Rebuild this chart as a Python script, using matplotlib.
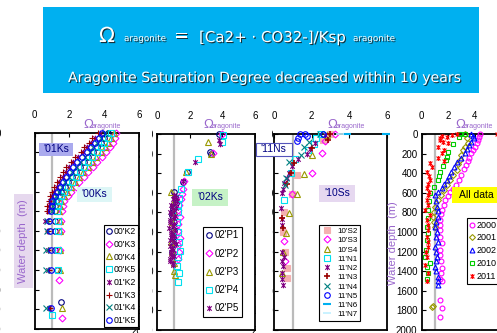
import matplotlib
matplotlib.use('Agg')
import matplotlib.pyplot as plt
import matplotlib.patheffects as pe
from matplotlib.patches import Rectangle
from matplotlib.path import Path

W, H = 497, 333
plt.rcParams['font.family'] = ['Liberation Sans', 'DejaVu Sans']

# ---------------- data ----------------
xticks = [0, 2, 4, 6]
yticks = [0, 200, 400, 600, 800, 1000, 1200, 1400, 1600, 1800, 2000]

# Panel 1 : '00Ks / '01Ks
k_labels = ["00'K2", "00'K3", "00'K4", "00'K5", "01'K2", "01'K3", "01'K4", "01'K5"]
k_up_depth = [0, 50, 100, 150, 200, 250, 300, 350, 400, 450, 500, 550, 600, 650, 700, 750, 800]
k00_2 = [4.2, 4.0, 3.8, 3.59, 3.38, 3.1, 2.83, 2.6, 2.38, 2.17, 1.95, 1.75, 1.55, 1.4, 1.25, 1.2, 1.15]
k00_3 = [4.7, 4.62, 4.48, 4.32, 4.08, 3.86, 3.58, 3.37, 3.08, 2.86, 2.58, 2.37, 2.08, 1.92, 1.68, 1.66, 1.58]
k00_4 = [4.56, 4.39, 4.22, 4.02, 3.81, 3.55, 3.29, 3.05, 2.81, 2.58, 2.34, 2.11, 1.88, 1.7, 1.52, 1.47, 1.42]
k00_5 = [4.38, 4.2, 4.01, 3.8, 3.59, 3.33, 3.05, 2.83, 2.59, 2.37, 2.15, 1.93, 1.72, 1.55, 1.39, 1.34, 1.29]
k01_2 = [3.75, 3.5, 3.22, 3.0, 2.8, 2.5, 2.2, 2.0, 1.8, 1.62, 1.42, 1.28, 1.1, 1.0, 0.88, 0.85, 0.8]
k01_3 = [3.62, 3.3, 3.12, 2.85, 2.68, 2.33, 2.08, 1.83, 1.66, 1.45, 1.32, 1.12, 1.02, 0.88, 0.82, 0.73, 0.72]
k01_4 = [4.02, 3.81, 3.59, 3.38, 3.16, 2.88, 2.59, 2.38, 2.16, 1.96, 1.76, 1.57, 1.39, 1.25, 1.12, 1.07, 1.02]
k01_5 = [3.9, 3.68, 3.45, 3.23, 3.01, 2.73, 2.44, 2.23, 2.01, 1.82, 1.63, 1.45, 1.28, 1.15, 1.03, 0.98, 0.93]
k00_2_deep_d = [900, 1000, 1200, 1400, 1720]
k00_2_deep = [1.15, 1.2, 1.2, 1.3, 1.55]
k00_3_deep_d = [900, 1000, 1200, 1500, 1890]
k00_3_deep = [1.5, 1.5, 1.45, 1.4, 1.6]
k00_4_deep_d = [900, 1000, 1200, 1400, 1790]
k00_4_deep = [1.45, 1.45, 1.45, 1.45, 1.6]
k00_5_deep_d = [900, 1000, 1200, 1400, 1860]
k00_5_deep = [1.35, 1.35, 1.35, 1.35, 1.0]
k01_2_deep_d = [900, 1000, 1200, 1400, 1790]
k01_2_deep = [0.62, 0.7, 0.8, 0.8, 0.85]
k01_3_deep_d = [900, 1000, 1200, 1400, 1790]
k01_3_deep = [0.75, 0.8, 0.75, 0.85, 0.9]
k01_4_deep_d = [900, 1000, 1200, 1400, 1790]
k01_4_deep = [0.7, 0.7, 0.65, 0.65, 0.65]
k01_5_deep_d = [900, 1000, 1200, 1400, 1790]
k01_5_deep = [0.85, 0.9, 0.95, 0.95, 0.95]

# Panel 2 : '02Ks
p_labels = ["02'P1", "02'P2", "02'P3", "02'P4", "02'P5"]
p1_d = [0, 180, 200, 385, 485, 590, 640, 700, 760, 830, 900, 980, 1050, 1120, 1200]
p1_w = [3.8, 3.25, 3.3, 1.85, 1.6, 1.0, 1.1, 1.15, 0.95, 0.88, 1.0, 1.05, 0.95, 1.0, 0.9]
p2_d = [0, 190, 480, 560, 610, 660, 720, 780, 850, 920, 990, 1060, 1130, 1200, 1280]
p2_w = [3.95, 3.45, 1.65, 1.55, 1.5, 1.45, 1.35, 1.3, 1.4, 1.3, 1.25, 1.4, 1.3, 1.35, 1.25]
p3_d = [85, 200, 385, 590, 700, 800, 900, 1000, 1100, 1200, 1320, 1400, 1440]
p3_w = [3.1, 3.3, 1.75, 0.82, 0.95, 1.0, 0.9, 0.95, 0.85, 0.9, 1.0, 1.05, 1.08]
p4_d = [10, 80, 250, 390, 560, 650, 720, 800, 900, 1000, 1100, 1190, 1260, 1350, 1420, 1510]
p4_w = [4.05, 3.95, 2.5, 1.9, 1.45, 1.35, 1.3, 1.25, 1.2, 1.3, 1.35, 1.4, 1.3, 1.2, 1.35, 1.3]
p5_d = [60, 100, 290, 480, 620, 640, 660, 680, 700, 720, 740, 760, 780, 800, 820, 840, 860,
        880, 900, 920, 940, 960, 980, 1000, 1020, 1040, 1060, 1080, 1100, 1120, 1140, 1160,
        1180, 1200, 1220, 1240, 1260, 1280, 1300, 1320, 1340]
p5_w = [3.8, 3.85, 2.3, 1.55, 1.0, 1.15, 0.95, 1.2, 1.1, 0.85, 0.9, 1.15, 1.05, 0.8, 0.85, 1.1,
        1.0, 0.75, 0.8, 1.05, 0.95, 0.7, 1.1, 0.85, 0.85, 1.0, 0.9, 0.75, 1.0, 1.15, 0.8, 0.9,
        0.95, 0.85, 0.85, 1.0, 0.9, 0.8, 0.8, 0.95, 0.95]

# Panel 3 : '10Ss / '11Ns
s_labels = ["10'S2", "10'S3", "10'S4", "11'N1", "11'N2", "11'N3", "11'N4", "11'N5", "11'N6", "11'N7"]
s2_d = [0, 60, 418, 610, 792, 1000, 1200, 1370, 1472]
s2_w = [2.95, 2.6, 1.22, 0.95, 0.53, 0.5, 0.61, 0.7, 0.7]
s3_d = [0, 70, 197, 395, 612, 1090, 1300]
s3_w = [3.25, 2.7, 2.55, 2.0, 0.98, 0.55, 0.6]
s4_d = [10, 214, 405, 612, 810, 1013, 1200, 1420]
s4_w = [2.8, 2.02, 1.58, 1.23, 0.8, 0.62, 0.5, 0.45]
n1_d = [0, 40, 100, 160, 250, 400, 673]
n1_w = [2.5, 2.25, 2.1, 1.8, 1.1, 0.9, 0.53]
n2_d = [10, 90, 150, 200, 260, 330, 400, 450, 500, 560, 600, 750, 870, 930, 1200, 1250,
        1300, 1350, 1420, 1480, 1540]
n2_w = [2.7, 2.2, 1.9, 1.75, 1.3, 0.95, 0.8, 0.7, 0.55, 0.5, 0.45, 0.35, 0.45, 0.4, 0.45, 0.55,
        0.4, 0.5, 0.45, 0.4, 0.5]
n3_d = [0, 60, 140, 300, 400, 510, 860, 960]
n3_w = [3.0, 2.85, 2.0, 1.05, 0.9, 0.7, 0.45, 0.5]
n4_d = [0, 80, 130, 210, 282, 450, 520]
n4_w = [2.45, 1.85, 1.6, 1.45, 0.8, 0.65, 0.6]
n5_d = [0, 5, 20, 45, 75, 0]
n5_w = [1.4, 1.65, 1.75, 1.25, 1.2, 2.6]
n6_d = [0, 0]
n6_w = [3.85, 5.95]
n7_d = [5]
n7_w = [3.5]

# Panel 4 : all data
y_labels = ['2000', '2001', '2002', '2010', '2011']
a00_d = [0, 30, 60, 95, 130, 160, 197, 240, 280, 316, 360, 418, 470, 520, 560, 590, 630, 675,
         720, 775, 820, 875, 930, 980, 1050, 1115, 1180, 1235, 1300, 1370, 1420, 1475, 1500,
         1695, 1780, 1865]
a00_w = [4.4, 4.35, 4.25, 4.15, 4.0, 3.85, 3.75, 3.6, 3.5, 3.35, 3.2, 3.0, 2.8, 2.6, 2.4, 2.15,
         2.0, 1.8, 1.65, 1.5, 1.45, 1.4, 1.35, 1.4, 1.35, 1.5, 1.4, 1.4, 1.45, 1.5, 1.45, 1.4,
         1.55, 1.4, 1.5, 1.4]
a01_d = [0, 40, 95, 130, 163, 210, 265, 310, 367, 420, 470, 520, 570, 620, 675, 740, 800, 845,
         900, 945, 1760, 1770]
a01_w = [3.3, 3.45, 3.5, 3.3, 3.15, 3.0, 2.9, 2.75, 2.65, 2.4, 2.15, 1.9, 1.65, 1.45, 1.26, 1.0,
         0.95, 0.88, 0.9, 1.0, 0.88, 0.76]
a02_d = [0, 20, 44, 80, 112, 150, 197, 240, 290, 340, 385, 430, 470, 510, 555, 590, 620, 680,
         740, 790, 845, 900, 945, 1000, 1050, 1100, 1150, 1200, 1250, 1300, 1355, 1400, 1455,
         1500, 1540]
a02_w = [3.7, 3.9, 3.95, 3.75, 3.55, 3.4, 3.3, 3.0, 2.7, 2.45, 2.25, 2.05, 1.9, 1.7, 1.5, 1.2,
         1.0, 1.1, 1.15, 1.2, 1.25, 1.1, 1.0, 1.15, 1.1, 1.2, 1.0, 1.1, 1.15, 1.05, 1.0, 1.1,
         1.25, 1.2, 1.25]
a10_d = [0, 5, 30, 100, 180, 230, 265, 330, 385, 430, 470, 540, 605, 680, 775, 860, 945, 1010,
         1080, 1180, 1250, 1320, 1355, 1420, 1480]
a10_w = [2.9, 3.3, 2.8, 2.4, 2.0, 1.9, 1.85, 1.6, 1.4, 1.3, 1.26, 0.9, 0.63, 0.55, 0.5, 0.45,
         0.38, 0.45, 0.38, 0.3, 0.25, 0.63, 0.38, 0.5, 0.4]
a11_d = [0, 0, 10, 20, 27, 40, 60, 78, 95, 130, 160, 197, 240, 280, 300, 340, 385, 430, 470,
         510, 555, 590, 620, 675, 720, 775, 825, 875, 930, 980, 1050, 1100, 1150, 1200, 1250,
         1335, 1420, 1505]
a11_w = [2.65, 5.7, 2.27, 1.5, 1.9, 1.35, 1.4, 1.64, 2.0, 1.26, 1.7, 1.5, 1.2, 1.65, 0.63, 0.8,
         0.38, 0.55, 0.63, 0.45, 0.38, 0.55, 0.5, 0.38, 0.45, 0.25, 0.63, 0.38, 0.45, 0.5, 0.38,
         0.45, 0.5, 0.35, 0.38, 0.25, 0.5, 0.38]

# ---------------- style helpers ----------------
NAVY, MAG, OLIVE, CYAN = '#000080', '#FF00FF', '#999900', '#00E0F0'
PURP, DRED, TEAL, BLUE = '#800080', '#990000', '#008080', '#0000FF'
LAV = '#9966CC'
NARROW = ['Liberation Sans Narrow', 'Liberation Sans']
STAR = Path([(-1, -1), (1, 1), (-1, 1), (1, -1), (0, -1.25), (0, 1.25)],
            [Path.MOVETO, Path.LINETO, Path.MOVETO, Path.LINETO, Path.MOVETO, Path.LINETO])

fig = plt.figure(figsize=(W / 100, H / 100), dpi=100)


def fx(x):
    return x / W


def fy(y):
    return 1 - y / H


def add_ax(x0, y0, x1, y1, z):
    ax = fig.add_axes([fx(x0), fy(y1), (x1 - x0) / W, (y1 - y0) / H])
    ax.set_zorder(z)
    return ax


def style_ax(ax, ypad):
    ax.set_xlim(0, 6)
    ax.set_ylim(2000, 0)
    ax.set_xticks(xticks)
    ax.set_yticks(yticks)
    ax.xaxis.tick_top()
    ax.tick_params(axis='both', direction='in', length=3, width=0.8, labelsize=7)
    ax.tick_params(axis='x', pad=9.5)
    ax.tick_params(axis='y', pad=ypad)
    for lab in ax.get_xticklabels() + ax.get_yticklabels():
        lab.set_family(NARROW)
    for sp in ax.spines.values():
        sp.set_linewidth(1.3)
    ax.axvline(1, color='#BBBBBB', lw=1.6, zorder=1)


def pts(ax, w, d, marker, color, label, ms=4, filled=False, mew=0.8):
    ax.plot(w, d, ls='none', marker=marker, ms=ms, mew=mew,
            mec=color, mfc=(color if filled else 'none'),
            label=label, clip_on=False, zorder=3)


def legend(ax, x, y, fs, spacing, hl=0.7, pad=0.3, tp=0.25):
    lg = ax.legend(loc='upper left', bbox_to_anchor=(fx(x), fy(y)), bbox_transform=fig.transFigure,
                   prop={'family': NARROW, 'size': fs}, frameon=True, fancybox=False,
                   framealpha=1, edgecolor='black', borderaxespad=0, borderpad=pad,
                   labelspacing=spacing, handlelength=hl, handletextpad=tp, numpoints=1)
    lg.get_frame().set_linewidth(0.8)
    lg.set_zorder(6)
    return lg


# ---------------- title box ----------------
fig.add_artist(Rectangle((fx(43), fy(93)), (479 - 43) / W, (93 - 7) / H,
                         transform=fig.transFigure, facecolor='#00B0F0', edgecolor='none', zorder=0))
shadow = [pe.withSimplePatchShadow(offset=(0.8, -0.8), shadow_rgbFace='#1a1a1a', alpha=0.85)]
TF = ['DejaVu Sans']
fig.text(fx(99), fy(42), 'Ω', fontsize=15, color='white', path_effects=shadow, va='baseline',
         family=TF)
fig.text(fx(124), fy(41), 'aragonite', fontsize=6.3, color='white', path_effects=shadow,
         va='baseline', family=TF)
fig.text(fx(174), fy(41), '=', fontsize=13, color='white', path_effects=shadow, va='baseline',
         family=TF)
fig.text(fx(199), fy(42), '[Ca2+ · CO32-]/Ksp', fontsize=10.8, color='white', path_effects=shadow,
         va='baseline', family=TF)
fig.text(fx(353), fy(41), 'aragonite', fontsize=6.3, color='white', path_effects=shadow,
         va='baseline', family=TF)
fig.text(fx(68), fy(82), 'Aragonite Saturation Degree decreased within 10 years', fontsize=10.15,
         color='white', path_effects=shadow, va='baseline', family=TF)

# ---------------- panel 1 ----------------
ax1 = add_ax(34.5, 132.7, 139, 329, 4)
style_ax(ax1, 24)
pts(ax1, k00_2 + k00_2_deep, k_up_depth + k00_2_deep_d, 'o', NAVY, k_labels[0])
pts(ax1, k00_3 + k00_3_deep, k_up_depth + k00_3_deep_d, 'D', MAG, k_labels[1], ms=3.5)
pts(ax1, k00_4 + k00_4_deep, k_up_depth + k00_4_deep_d, '^', OLIVE, k_labels[2])
pts(ax1, k00_5 + k00_5_deep, k_up_depth + k00_5_deep_d, 's', CYAN, k_labels[3])
pts(ax1, k01_2 + k01_2_deep, k_up_depth + k01_2_deep_d, STAR, PURP, k_labels[4])
pts(ax1, k01_3 + k01_3_deep, k_up_depth + k01_3_deep_d, '+', DRED, k_labels[5], ms=5)
pts(ax1, k01_4 + k01_4_deep, k_up_depth + k01_4_deep_d, 'x', TEAL, k_labels[6])
pts(ax1, k01_5 + k01_5_deep, k_up_depth + k01_5_deep_d, 'o', BLUE, k_labels[7])
legend(ax1, 104, 225, 6.3, 0.42, hl=0.6, pad=0.25, tp=0.2)

# ---------------- panel 2 ----------------
ax2 = add_ax(157.3, 134, 255, 330, 3)
style_ax(ax2, 2.8)
pts(ax2, p1_w, p1_d, 'o', NAVY, p_labels[0])
pts(ax2, p2_w, p2_d, 'D', MAG, p_labels[1], ms=3.5)
pts(ax2, p3_w, p3_d, '^', OLIVE, p_labels[2])
pts(ax2, p4_w, p4_d, 's', CYAN, p_labels[3])
pts(ax2, p5_w, p5_d, STAR, PURP, p_labels[4])
legend(ax2, 203, 227, 7, 0.85, hl=0.6, pad=0.35, tp=0.2)

# ---------------- panel 3 ----------------
ax3 = add_ax(274, 134, 387, 330, 2)
style_ax(ax3, 0.5)
pts(ax3, s2_w, s2_d, 's', '#F4B0B0', s_labels[0], filled=True)
pts(ax3, s3_w, s3_d, 'D', MAG, s_labels[1], ms=3.5)
pts(ax3, s4_w, s4_d, '^', OLIVE, s_labels[2])
pts(ax3, n1_w, n1_d, 's', CYAN, s_labels[3])
pts(ax3, n2_w, n2_d, STAR, PURP, s_labels[4])
pts(ax3, n3_w, n3_d, '+', DRED, s_labels[5], ms=5, mew=1.2)
pts(ax3, n4_w, n4_d, 'x', TEAL, s_labels[6])
pts(ax3, n5_w, n5_d, 'o', BLUE, s_labels[7])
pts(ax3, n6_w, n6_d, '_', '#00B0F0', s_labels[8], ms=6, mew=1.5)
pts(ax3, n7_w, n7_d, '_', '#C0F0FF', s_labels[9], ms=6, mew=1.2)
legend(ax3, 319, 225, 5.8, 0.2, hl=1.4, pad=0.3, tp=0.6)

# ---------------- panel 4 ----------------
ax4 = add_ax(421.7, 134, 501, 330, 1)
style_ax(ax4, 3)
pts(ax4, a00_w, a00_d, 'o', MAG, y_labels[0], ms=3.5)
pts(ax4, a01_w, a01_d, 'D', OLIVE, y_labels[1], ms=3)
pts(ax4, a02_w, a02_d, '^', BLUE, y_labels[2], ms=3.5)
pts(ax4, a10_w, a10_d, 's', '#00CC00', y_labels[3], ms=3.5)
pts(ax4, a11_w, a11_d, STAR, '#FF0000', y_labels[4], ms=3.5)
legend(ax4, 467, 218, 6.5, 0.42, hl=0.6, pad=0.3, tp=0.2)

# masks: neighbouring panel images cover most of the y tick labels
fig.add_artist(Rectangle((fx(140.0), fy(333)), (151.6 - 140.0) / W, 210 / H,
                         transform=fig.transFigure, facecolor='white', edgecolor='none', zorder=5))
fig.add_artist(Rectangle((fx(256), fy(333)), (271.6 - 256) / W, 210 / H,
                         transform=fig.transFigure, facecolor='white', edgecolor='none', zorder=5))

# ---------------- omega labels ----------------
for x0 in (83, 203, 327, 455):
    fig.text(fx(x0), fy(128), 'Ω', fontsize=9.5, color=LAV, va='baseline', zorder=7)
    fig.text(fx(x0 + 9), fy(128), 'aragonite', fontsize=5, color=LAV, va='baseline', zorder=7)

# ---------------- annotation boxes ----------------
def tag(x0, y0, x1, y1, text, fc, tc='#000080', ec='none', fs=7.5, lw=0.8):
    fig.add_artist(Rectangle((fx(x0), fy(y1)), (x1 - x0) / W, (y1 - y0) / H,
                             transform=fig.transFigure, facecolor=fc, edgecolor=ec,
                             lw=lw, zorder=8))
    fig.text(fx((x0 + x1) / 2), fy((y0 + y1) / 2), text, fontsize=fs, color=tc,
             ha='center', va='center', zorder=9)


tag(39, 142.7, 73.3, 155.7, "'01Ks", '#AAAAEE')
tag(77.3, 186.7, 111.7, 201.7, "'00Ks", '#DDF6F6')
tag(192.3, 189, 227.7, 205.7, "'02Ks", '#C6F2C6')
tag(255.5, 142.5, 292, 155.5, "'11Ns", 'white', ec='#5555BB')
tag(319.3, 185, 355, 201.7, "'10Ss", '#E6D8F0')
tag(451.7, 187.3, 500, 202.7, 'All data', '#FFFF00', tc='black')

# y label boxes
fig.add_artist(Rectangle((fx(14), fy(288)), 19 / W, 94 / H, transform=fig.transFigure,
                         facecolor='#E6D8EE', edgecolor='none', zorder=8))
fig.text(fx(23.5), fy(241), 'Water depth  (m)', rotation=90, fontsize=8, color=LAV,
         ha='center', va='center', zorder=9)
fig.text(fx(393), fy(243), 'Water depth  (m)', rotation=90, fontsize=8, color=LAV,
         ha='center', va='center', zorder=9)

fig.savefig('out.png', dpi=100)
